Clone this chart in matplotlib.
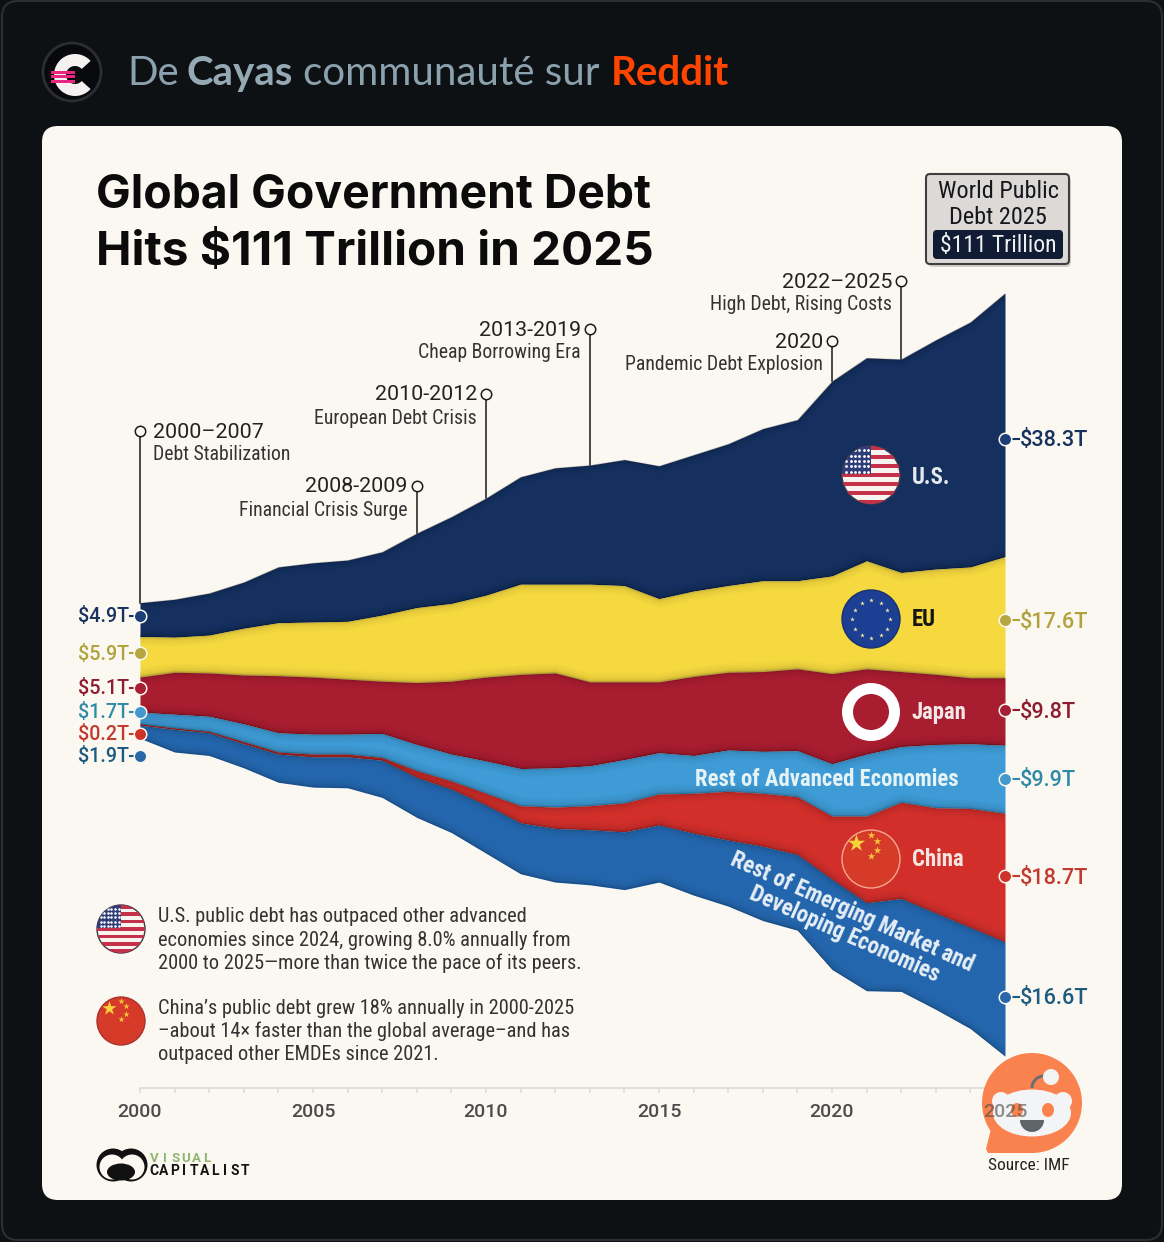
import numpy as np
from matplotlib import pyplot as plt
from matplotlib import patches, transforms, font_manager

W, H = 1164, 1242

years = np.arange(2000, 2026)

# government debt by group, trillions of dollars
us = [4.9, 5.5, 6.1, 6.7, 8.1, 8.6, 8.9, 9.2, 10.8, 12.6, 14.1, 15.6, 16.9,
      17.3, 18.3, 19.3, 19.8, 20.6, 22.1, 23.4, 28.3, 29.5, 31.0, 33.3, 35.6, 38.3]
eu = [5.9, 5.1, 5.5, 6.8, 7.7, 8.0, 8.4, 9.6, 10.9, 11.3, 11.9, 13.1, 12.9,
      14.2, 14.0, 12.1, 12.4, 12.6, 13.2, 12.8, 14.2, 15.7, 14.4, 15.3, 16.1, 17.6]
japan = [5.1, 6.1, 6.3, 7.1, 8.3, 8.3, 8.0, 7.6, 9.0, 10.6, 12.2, 13.7, 13.8,
         12.2, 11.3, 10.3, 11.5, 11.3, 11.6, 11.9, 13.1, 12.4, 10.9, 10.2, 9.6, 9.8]
rest_adv = [1.7, 2.0, 2.2, 2.6, 2.8, 2.9, 2.9, 3.5, 3.8, 3.9, 4.7, 5.4, 5.7,
            5.8, 6.3, 6.0, 5.5, 6.0, 6.1, 6.7, 7.6, 9.0, 8.1, 9.2, 9.4, 9.9]
china = [0.2, 0.2, 0.2, 0.3, 0.3, 0.4, 0.4, 0.4, 1.0, 1.2, 1.7, 2.5, 3.1,
         3.5, 4.2, 4.5, 5.8, 7.1, 7.7, 8.4, 9.2, 12.6, 14.0, 15.3, 17.3, 18.7]
rest_emde = [1.9, 3.3, 3.3, 3.5, 4.1, 4.4, 4.5, 5.4, 5.8, 6.3, 7.0, 7.4, 7.8,
             8.0, 8.4, 8.3, 9.0, 9.6, 10.8, 11.0, 13.1, 12.8, 13.5, 14.0, 14.7, 16.6]
# height of the top of the stream above the centre line
stream_top = [10.5, 11.0, 11.9, 13.5, 15.7, 16.3, 16.7, 17.9, 20.6, 23.0, 25.7,
              28.8, 30.1, 30.5, 31.3, 30.4, 32.0, 33.6, 35.8, 37.1, 42.7, 46.1,
              45.9, 48.7, 51.3, 55.5]

series = [us, eu, japan, rest_adv, china, rest_emde]
band_colors = ['#15305f', '#f5d93f', '#a91d30', '#3e9bd6', '#d22f2b', '#2466ae']
dot_colors = ['#1c3f78', '#b5a63f', '#a81f33', '#4399cc', '#cf3229', '#2a67a8']
text_colors = ['#17325e', '#b1a23c', '#8e1c30', '#2f8aa8', '#c23a2f', '#1d5a80']

start_labels = ['$4.9T', '$5.9T', '$5.1T', '$1.7T', '$0.2T', '$1.9T']
end_labels = ['$38.3T', '$17.6T', '$9.8T', '$9.9T', '$18.7T', '$16.6T']
start_label_y = [616, 653, 688, 712, 734, 756]
end_label_y = [439, 620, 710, 779, 876, 997]

event_years = [2000, 2008, 2010, 2013, 2020, 2022]
event_spans = ['2000–2007', '2008-2009', '2010-2012', '2013-2019', '2020', '2022–2025']
event_names = ['Debt Stabilization', 'Financial Crisis Surge', 'European Debt Crisis',
               'Cheap Borrowing Era', 'Pandemic Debt Explosion', 'High Debt, Rising Costs']
event_dot_y = [431, 486, 394, 329, 341, 281]

tick_years = [2000, 2005, 2010, 2015, 2020, 2025]

# narrow face for the small copy when one is installed
installed = {f.name for f in font_manager.fontManager.ttflist}
narrow = 'Roboto'
for name in ['Roboto Condensed', 'Liberation Sans Narrow', 'Open Sans Condensed']:
    if name in installed:
        narrow = name
        break
is_narrow = narrow != 'Roboto'
plt.rcParams['font.family'] = ['Roboto', 'DejaVu Sans']
small = dict(family=[narrow, 'DejaVu Sans'])

fig = plt.figure(figsize=(W / 100, H / 100), dpi=100, facecolor='#0e1114')


def full_axes(z):
    a = fig.add_axes([0, 0, 1, 1], zorder=z)
    a.set_xlim(0, W)
    a.set_ylim(H, 0)
    a.axis('off')
    a.patch.set_alpha(0)
    return a


page = full_axes(0)
over = full_axes(2)

# chart axes: 34.6 px per year, 6.88 px per trillion, centre line at y=675
ax = fig.add_axes([0, 0, 1, 1], zorder=1)
ax.set_xlim(2000 - 140 / 34.6, 2000 + (W - 140) / 34.6)
ax.set_ylim((675 - H) / 6.88, 675 / 6.88)
ax.axis('off')
ax.patch.set_alpha(0)

# x in years, y in page pixels
year_px = transforms.blended_transform_factory(ax.transData, page.transData)


# ---- page background ----
page.add_patch(patches.FancyBboxPatch((2, 1), W - 4, H - 3, boxstyle='round,pad=0,rounding_size=16',
                                      fc='#0e1114', ec='#2b2e32', lw=1.5))
page.add_patch(patches.FancyBboxPatch((42, 126), 1080, 1074, boxstyle='round,pad=0,rounding_size=16',
                                      fc='#fbf8f1', ec='none'))

# header
page.add_patch(patches.Circle((72, 72), 29, fc='#08090c', ec='#2d2c33', lw=2))
page.add_patch(patches.Wedge((75, 75), 21, 42, 318, width=12, fc='#f6f1f1', ec='none'))
for yy in [71, 75, 80]:
    page.add_patch(patches.Rectangle((51, yy), 24, 2.6, fc='#e8267f', ec='none'))
hdr = dict(fontsize=29, va='baseline', family=['Lato', 'DejaVu Sans'])
page.text(127, 85, 'De', color='#8ba1ad', **hdr)
page.text(186, 85, 'Cayas', color='#95a9b4', weight='bold', **hdr)
page.text(303, 85, 'communauté sur', color='#8ba1ad', **hdr)
page.text(611, 85, 'Reddit', color='#ff4500', weight='bold', **hdr)

# title
ttl = dict(weight='bold', color='#0b0b0b', va='baseline', family=['Inter', 'DejaVu Sans'])
page.text(96, 207, 'Global Government Debt', fontsize=33.3, **ttl)
page.text(96, 265, 'Hits $111 Trillion in 2025', fontsize=34.3, **ttl)

# total box
page.add_patch(patches.FancyBboxPatch((928, 177), 143, 90, boxstyle='round,pad=0,rounding_size=5',
                                      fc='#b9b5ae', ec='none', alpha=0.6))
page.add_patch(patches.FancyBboxPatch((926, 174), 143, 90, boxstyle='round,pad=0,rounding_size=4',
                                      fc='#dcd9d6', ec='#3f3f3f', lw=1.5))
page.add_patch(patches.FancyBboxPatch((933, 230), 130, 29, boxstyle='round,pad=0,rounding_size=4',
                                      fc='#101c33', ec='none'))
box_fs = 17.5 if is_narrow else 16
page.text(998, 192, 'World Public', fontsize=box_fs, color='#14171c', ha='center', va='center', **small)
page.text(998, 217, 'Debt 2025', fontsize=box_fs, color='#14171c', ha='center', va='center', **small)
page.text(998, 246, '$111 Trillion', fontsize=box_fs - 0.5, color='#eef0f2', ha='center', va='center', **small)

# ---- stream ----
upper = np.array(stream_top, dtype=float)
for vals, col in zip(series, band_colors):
    lower = upper - np.array(vals)
    band = ax.fill_between(years, lower, upper, color=col, lw=0, zorder=2)
    # darker edge along both sides of each band
    for edge in (upper, lower):
        for lw, al in [(13, 0.015), (10, 0.02), (7, 0.025), (4.5, 0.03), (2.5, 0.05), (1.2, 0.12)]:
            ln, = ax.plot(years, edge, color='black', lw=lw, alpha=al, zorder=3,
                          solid_capstyle='butt')
            ln.set_clip_path(band.get_paths()[0], ax.transData)
    upper = lower

# x axis
ax.plot([2000, 2025], [1088, 1088], transform=year_px, color='#dedbd4', lw=1.2, zorder=1)
ax.vlines(years, 1088, 1093, transform=year_px, color='#dedbd4', lw=1.2, zorder=1)
for y in tick_years[:-1]:
    ax.text(y, 1112, str(y), transform=year_px, fontsize=14, weight='medium', color='#4b4b4b',
            ha='center', va='center')

# callouts, leader runs from the dot to the top of the stream
span_fs = 15.4
name_fs = 14.2 if is_narrow else 13
for yr, span, name, dy in zip(event_years, event_spans, event_names, event_dot_y):
    top_val = stream_top[yr - 2000]
    top_px = H - ax.transData.transform((yr, top_val))[1]
    ax.plot([yr, yr], [dy, top_px], transform=year_px, color='#1a1a1a', lw=1.1, zorder=4)
    ax.plot([yr], [dy], transform=year_px, marker='o', ms=7.5, mfc='#fbf8f1', mec='#1a1a1a',
            mew=1.1, ls='none', zorder=5)
    px = ax.transData.transform((yr, 0))[0]
    if yr == 2000:
        page.text(px + 13, dy + 1, span, fontsize=span_fs, color='#222222', ha='left', va='center')
        page.text(px + 13, dy + 24, name, fontsize=name_fs, color='#333333', ha='left', va='center', **small)
    else:
        page.text(px - 9, dy + 1, span, fontsize=span_fs, color='#222222', ha='right', va='center')
        page.text(px - 9, dy + 24, name, fontsize=name_fs, color='#333333', ha='right', va='center', **small)

# value labels at both ends of the stream
val_fs = 14.2
end_fs = 15.6
for lab, dy, dc, tc in zip(start_labels, start_label_y, dot_colors, text_colors):
    ax.plot([2000 - 0.3, 2000], [dy, dy], transform=year_px, color=tc, lw=1.5, zorder=6)
    ax.plot([2000], [dy], transform=year_px, marker='o', ms=9, mfc=dc, mec='#fbf8f1', mew=1.1,
            ls='none', zorder=7)
    page.text(129, dy + 1, lab, fontsize=val_fs, weight='medium', color=tc, ha='right', va='center')
for lab, dy, dc, tc in zip(end_labels, end_label_y, dot_colors, text_colors):
    ax.plot([2025, 2025 + 0.4], [dy, dy], transform=year_px, color=tc, lw=1.5, zorder=6)
    ax.plot([2025], [dy], transform=year_px, marker='o', ms=9, mfc=dc, mec='#fbf8f1', mew=1.1,
            ls='none', zorder=7)
    page.text(1020, dy + 2, lab, fontsize=end_fs, weight='medium', color=tc, ha='left', va='center')


# ---- flags ----
def us_flag(cx, cy, r):
    disc = patches.Circle((cx, cy), r, fc='#f7f4f0', ec='#3c3c46', lw=1, zorder=3)
    over.add_patch(disc)
    h = 2 * r / 13
    for i in range(0, 13, 2):
        s = over.add_patch(patches.Rectangle((cx - r, cy - r + i * h), 2 * r, h, fc='#c5304a', ec='none', zorder=3))
        s.set_clip_path(disc)
    c = over.add_patch(patches.Rectangle((cx - r, cy - r), r * 1.0, r * 0.95, fc='#2f3d78', ec='none', zorder=3))
    c.set_clip_path(disc)
    xs, ys = np.meshgrid(np.linspace(cx - r * 0.85, cx - r * 0.1, 6), np.linspace(cy - r * 0.85, cy - r * 0.12, 5))
    d = over.scatter(xs.ravel(), ys.ravel(), s=r * 0.14, c='white', lw=0, zorder=3)
    d.set_clip_path(disc)


def china_flag(cx, cy, r, edge):
    disc = patches.Circle((cx, cy), r, fc='#d63a28', ec=edge, lw=1, zorder=3)
    over.add_patch(disc)
    over.scatter([cx - 0.52 * r], [cy - 0.55 * r], marker='*', s=r * r * 0.2, c='#f6d23c', lw=0, zorder=3)
    sx = [0.0, 0.2, 0.2, 0.0]
    sy = [-0.83, -0.62, -0.31, -0.1]
    over.scatter([cx + a * r for a in sx], [cy + b * r for b in sy], marker='*', s=r * r * 0.04,
                 c='#f6c23c', lw=0, zorder=3)


us_flag(871, 475, 29)
over.add_patch(patches.Circle((871, 619), 29, fc='#1c3f94', ec='#173070', lw=1))
ang = np.deg2rad(np.arange(0, 360, 30))
over.scatter(871 + 19 * np.cos(ang), 619 + 19 * np.sin(ang), marker='*', s=12, c='#f5e6a0', lw=0, zorder=3)
over.add_patch(patches.Circle((871, 712), 29, fc='white', ec='none'))
over.add_patch(patches.Circle((871, 712), 18, fc='#a91d30', ec='none'))
china_flag(871, 859, 29, '#f3a78f')

us_flag(121, 929, 24)
china_flag(121, 1021, 24, '#a8342c')

# band names
lab_fs = 16.4 if is_narrow else 14.5
band_txt = dict(fontsize=lab_fs, weight='bold', va='center', **small)
over.text(912, 477, 'U.S.', color='#e4e7ec', ha='left', **band_txt)
over.text(912, 620, 'EU', color='#161616', ha='left', **band_txt)
over.text(912, 713, 'Japan', color='#f2e6e6', ha='left', **band_txt)
over.text(912, 860, 'China', color='#f6e4df', ha='left', **band_txt)
over.text(827, 779, 'Rest of Advanced Economies', color='#e6f3f5', ha='center', **band_txt)
over.text(852, 912, 'Rest of Emerging Market and', color='#e6eef5', ha='center',
          rotation=-24, rotation_mode='anchor', **band_txt)
over.text(844, 934, 'Developing Economies', color='#e6eef5', ha='center',
          rotation=-24, rotation_mode='anchor', **band_txt)

# notes
note1 = ['U.S. public debt has outpaced other advanced',
         'economies since 2024, growing 8.0% annually from',
         '2000 to 2025—more than twice the pace of its peers.']
note2 = ['China’s public debt grew 18% annually in 2000-2025',
         '–about 14× faster than the global average–and has',
         'outpaced other EMDEs since 2021.']
note_fs = 14.7 if is_narrow else 13.4
for i, t in enumerate(note1):
    page.text(158, 917 + i * 23, t, fontsize=note_fs, color='#333333', ha='left', va='center', **small)
for i, t in enumerate(note2):
    page.text(158, 1008 + i * 23.5, t, fontsize=note_fs, color='#333333', ha='left', va='center', **small)

# footer
page.text(1029, 1165, 'Source: IMF', fontsize=12.5 if is_narrow else 11, color='#222222',
          ha='center', va='center', **small)
for cx in (113, 131):
    page.add_patch(patches.Circle((cx, 1165), 16.5, fc='#111111', ec='none'))
for cx in (112, 132):
    page.add_patch(patches.Circle((cx, 1167), 12.5, fc='#fbf8f1', ec='none'))
page.add_patch(patches.Ellipse((121, 1172), 28, 17, fc='#111111', ec='none'))


def spaced(x0, x1, y, s, **kw):
    for ch, x in zip(s, np.linspace(x0, x1, len(s))):
        page.text(x, y, ch, ha='center', va='center', **kw)


spaced(154, 207, 1159, 'VISUAL', fontsize=9.5, weight='bold', color='#8fb570')
spaced(154, 245, 1171, 'CAPITALIST', fontsize=10, weight='bold', color='#141414')

# ---- reddit sticker sits on top of everything ----
orange = '#f9824f'
top = full_axes(3)
top.add_patch(patches.Circle((1032, 1103), 50, fc=orange, ec='none'))
top.add_patch(patches.Polygon([(992, 1125), (986, 1149), (988, 1153), (1035, 1153)], fc=orange, ec='none'))
top.add_patch(patches.Circle((1001, 1101), 9, fc='#f5f5f6', ec='none'))
top.add_patch(patches.Circle((1063, 1101), 9, fc='#f5f5f6', ec='none'))
top.add_patch(patches.Ellipse((1032, 1113), 78, 47, fc='#f3f4f6', ec='none'))
top.add_patch(patches.Ellipse((1017, 1110), 12, 14, fc=orange, ec='none'))
top.add_patch(patches.Ellipse((1048, 1110), 12, 14, fc=orange, ec='none'))
top.add_patch(patches.Wedge((1032, 1120), 12, 0, 180, fc='#5f6468', ec='none'))
top.add_patch(patches.Arc((1044, 1088), 24, 24, theta1=180, theta2=285, color='#6e6e6e', lw=2.2))
top.add_patch(patches.Circle((1051, 1077), 8, fc='#f3f3f3', ec='none'))
# last tick label shows through the sticker
top.text(1005, 1112, '2025', fontsize=14, weight='medium', color='#4b4b4b', alpha=0.62,
         ha='center', va='center')

fig.savefig('out.png', dpi=100, facecolor=fig.get_facecolor())
